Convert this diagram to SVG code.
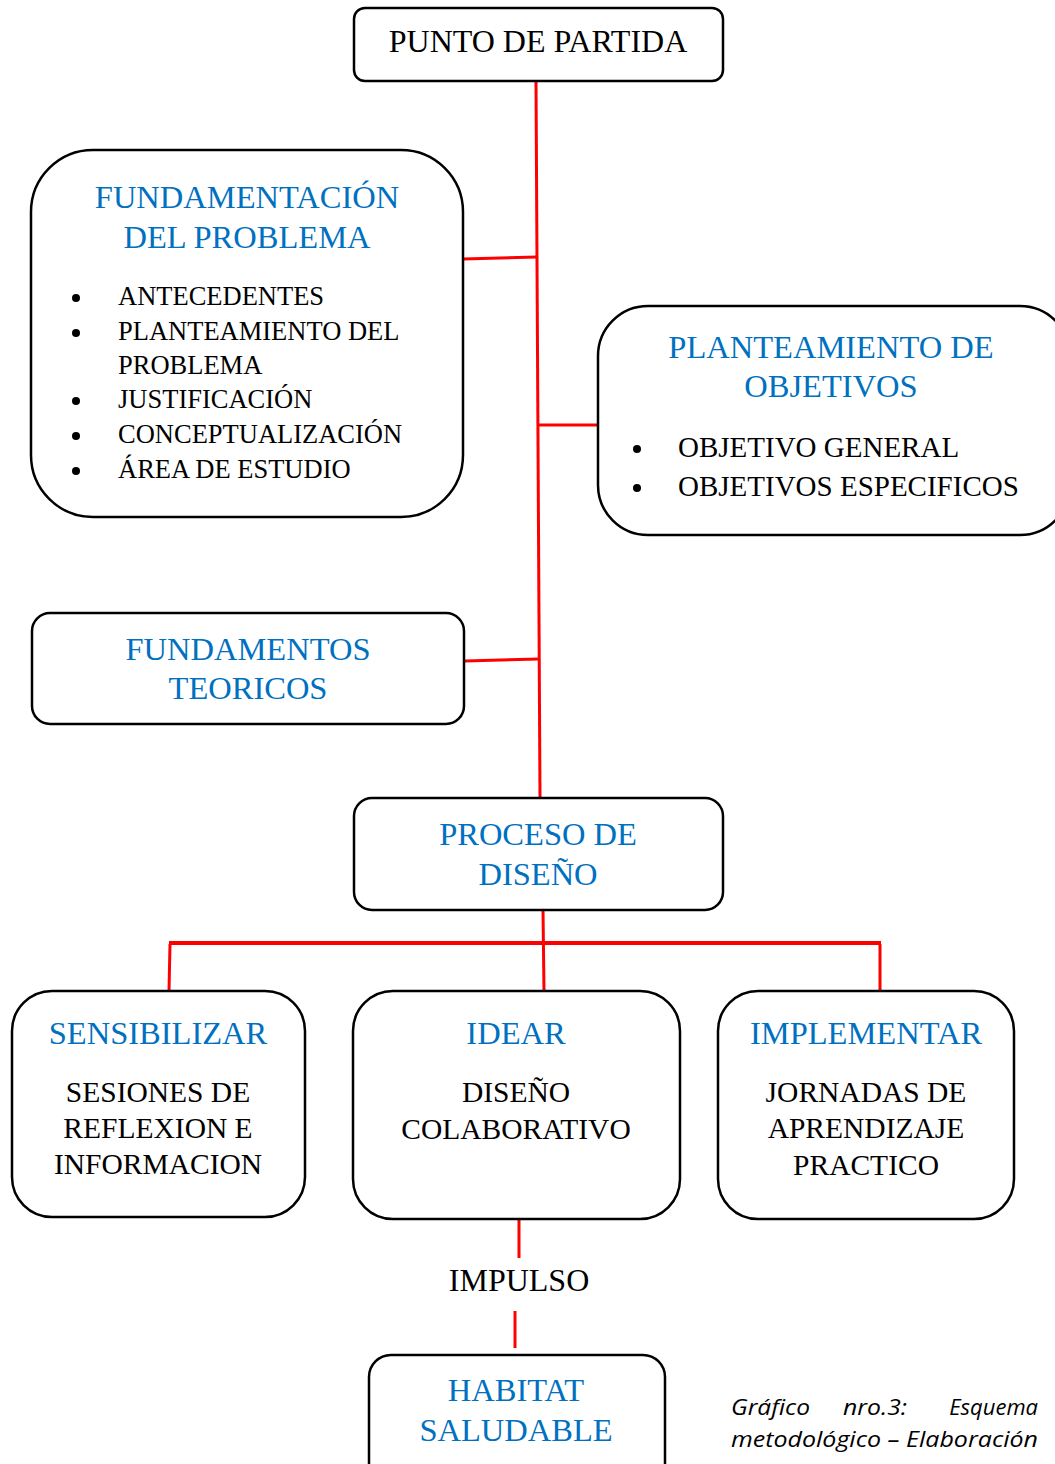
<svg xmlns="http://www.w3.org/2000/svg" width="1055" height="1464" viewBox="0 0 1055 1464">
<style>
.box{fill:#fff;stroke:#000;stroke-width:2.5}
.t{font-family:"Liberation Serif",serif;text-anchor:middle}
.b{fill:#0070C0;font-size:32.5px}
.k{fill:#000;font-size:29.5px}
.li{font-family:"Liberation Serif",serif;font-size:26.5px;fill:#000}
.c{stroke:#FF0000;stroke-width:3;fill:none}
.cap{font-family:"Open Sans","Noto Sans",sans-serif;font-style:italic;font-size:22px;fill:#000}
</style>
<rect width="1055" height="1464" fill="#fff"/>
<g id="connectors">
<path class="c" d="M536 82 L540 797"/>
<path class="c" d="M463 259 L537 257"/>
<path class="c" d="M538 425 L598 425"/>
<path class="c" d="M465 661 L539 659"/>
<path class="c" d="M543 910 L544 991"/>
<path class="c" d="M169 943 L881 943" style="stroke-width:4"/>
<path class="c" d="M170 944 L169 991"/>
<path class="c" d="M880 944 L880 991"/>
<path class="c" d="M519 1220 L519 1258"/>
<path class="c" d="M515 1311 L515 1348"/>
</g>
<g id="punto">
<rect class="box" x="354" y="8" width="369" height="73" rx="11"/>
<text class="t k" x="538" y="52" style="font-size:32px">PUNTO DE PARTIDA</text>
</g>
<g id="fundamentacion">
<rect class="box" x="31" y="150" width="432" height="367" rx="62"/>
<text class="t b" x="247" y="208">FUNDAMENTACIÓN</text>
<text class="t b" x="247" y="248">DEL PROBLEMA</text>
<g class="li">
<circle cx="76" cy="298" r="4"/><text x="118" y="305">ANTECEDENTES</text>
<circle cx="76" cy="333" r="4"/><text x="118" y="340">PLANTEAMIENTO DEL</text>
<text x="118" y="374">PROBLEMA</text>
<circle cx="76" cy="401" r="4"/><text x="118" y="408">JUSTIFICACIÓN</text>
<circle cx="76" cy="436" r="4"/><text x="118" y="443">CONCEPTUALIZACIÓN</text>
<circle cx="76" cy="471" r="4"/><text x="118" y="478">ÁREA DE ESTUDIO</text>
</g>
</g>
<g id="objetivos">
<rect class="box" x="598" y="306" width="472" height="229" rx="50"/>
<text class="t b" x="831" y="358">PLANTEAMIENTO DE</text>
<text class="t b" x="831" y="397">OBJETIVOS</text>
<g class="li" style="font-size:29px">
<circle cx="637" cy="449" r="4"/><text x="678" y="457">OBJETIVO GENERAL</text>
<circle cx="637" cy="488" r="4"/><text x="678" y="496">OBJETIVOS ESPECIFICOS</text>
</g>
</g>
<g id="fundamentos">
<rect class="box" x="32" y="613" width="432" height="111" rx="18"/>
<text class="t b" x="248" y="660">FUNDAMENTOS</text>
<text class="t b" x="248" y="699">TEORICOS</text>
</g>
<g id="proceso">
<rect class="box" x="354" y="798" width="369" height="112" rx="18"/>
<text class="t b" x="538" y="845">PROCESO DE</text>
<text class="t b" x="538" y="885">DISEÑO</text>
</g>
<g id="sensibilizar">
<rect class="box" x="12" y="991" width="293" height="226" rx="40"/>
<text class="t b" x="158" y="1044">SENSIBILIZAR</text>
<text class="t k" x="158" y="1102">SESIONES DE</text>
<text class="t k" x="158" y="1138">REFLEXION E</text>
<text class="t k" x="158" y="1174">INFORMACION</text>
</g>
<g id="idear">
<rect class="box" x="353" y="991" width="327" height="228" rx="40"/>
<text class="t b" x="516" y="1044">IDEAR</text>
<text class="t k" x="516" y="1102">DISEÑO</text>
<text class="t k" x="516" y="1139">COLABORATIVO</text>
</g>
<g id="implementar">
<rect class="box" x="718" y="991" width="296" height="228" rx="40"/>
<text class="t b" x="866" y="1044">IMPLEMENTAR</text>
<text class="t k" x="866" y="1102">JORNADAS DE</text>
<text class="t k" x="866" y="1138">APRENDIZAJE</text>
<text class="t k" x="866" y="1175">PRACTICO</text>
</g>
<g id="impulso">
<text class="t k" x="519" y="1291" style="font-size:32px">IMPULSO</text>
</g>
<g id="habitat">
<rect class="box" x="369" y="1355" width="296" height="130" rx="22"/>
<text class="t b" x="516" y="1401">HABITAT</text>
<text class="t b" x="516" y="1441">SALUDABLE</text>
</g>
<g id="caption" class="cap">
<text x="731" y="1415" textLength="79" lengthAdjust="spacingAndGlyphs">Gráfico</text>
<text x="843" y="1415" textLength="64" lengthAdjust="spacingAndGlyphs">nro.3:</text>
<text x="1038" y="1415" text-anchor="end">Esquema</text>
<text x="731" y="1447" textLength="307" lengthAdjust="spacingAndGlyphs">metodológico – Elaboración</text>
</g>
</svg>
